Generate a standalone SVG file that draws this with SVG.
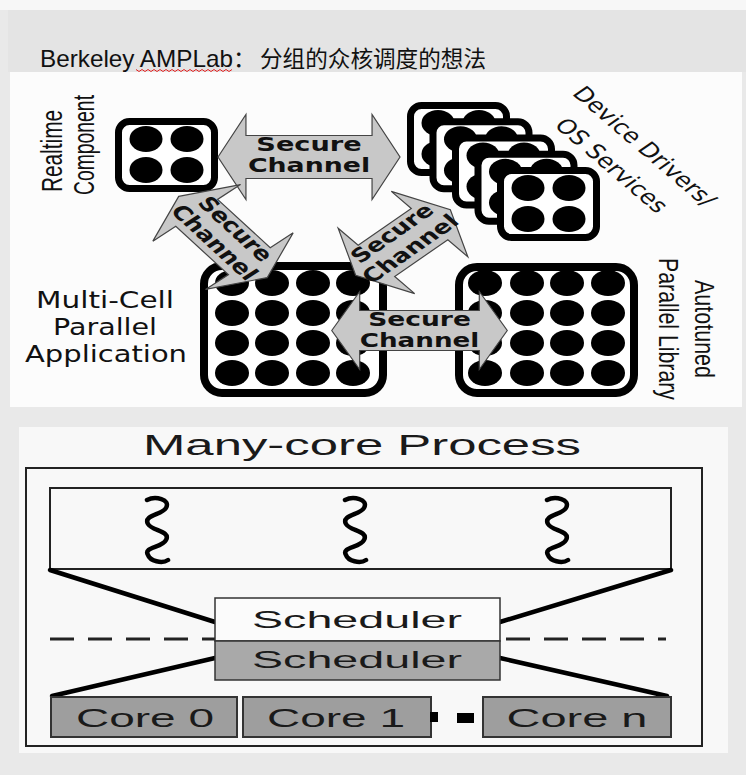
<svg xmlns="http://www.w3.org/2000/svg" width="746" height="775" viewBox="0 0 746 775">
<style>
.lbl{font-family:"Liberation Sans",Arial,sans-serif;fill:#111}
.ver{font-family:"DejaVu Sans",Verdana,sans-serif;fill:#111}
.sc{font-family:"DejaVu Sans",Verdana,sans-serif;font-weight:bold;font-size:19px;fill:#111;text-anchor:middle}
.arrow{fill:#c8c8c8;stroke:#444;stroke-width:1.2;vector-effect:non-scaling-stroke}
.dot{fill:#000}
.bigbox{fill:#fff;stroke:#000;stroke-width:8}
.thick{stroke:#000;stroke-width:4.5;fill:none;stroke-linecap:round}
.sq{stroke:#000;stroke-width:4.5;fill:none;stroke-linecap:round}
.bt{font-family:"Liberation Sans",Arial,sans-serif;fill:#1a1a1a;text-anchor:middle}
</style>
<defs>
<g id="quad">
<rect x="3.5" y="3.5" width="96" height="67" rx="11" fill="#fff" stroke="#000" stroke-width="7"/>
<ellipse class="dot" cx="31" cy="21" rx="16.5" ry="13"/>
<ellipse class="dot" cx="72" cy="21" rx="16.5" ry="13"/>
<ellipse class="dot" cx="31" cy="52" rx="16.5" ry="13"/>
<ellipse class="dot" cx="72" cy="52" rx="16.5" ry="13"/>
</g>
</defs>

<!-- backgrounds -->
<rect x="0" y="0" width="746" height="775" fill="#e9e9e9"/>
<rect x="0" y="0" width="746" height="10" fill="#f7f7f7"/>
<rect x="8" y="10" width="738" height="62" fill="#e4e4e4"/>
<rect x="10" y="72" width="732" height="335" fill="#fcfcfc"/>
<rect x="19" y="427" width="709" height="326" fill="#f8f8f8"/>

<!-- title -->
<g id="title">
<text class="lbl" x="40" y="67" font-size="24" textLength="193" lengthAdjust="spacingAndGlyphs">Berkeley AMPLab</text>
<text x="233" y="67" font-size="23" font-family="Noto Sans CJK SC, sans-serif" fill="#111">：</text>
<text x="260" y="67" font-size="23" font-family="Noto Sans CJK SC, sans-serif" fill="#111" textLength="226" lengthAdjust="spacingAndGlyphs">分组的众核调度的想法</text>
<path d="M136,69.5 l3,2 l3,-2 l3,2 l3,-2 l3,2 l3,-2 l3,2 l3,-2 l3,2 l3,-2 l3,2 l3,-2 l3,2 l3,-2 l3,2 l3,-2 l3,2 l3,-2 l3,2 l3,-2 l3,2 l3,-2 l3,2 l3,-2 l3,2 l3,-2 l3,2 l3,-2 l3,2 l3,-2 l3,2 l3,-2" fill="none" stroke="#e02020" stroke-width="1"/>
</g>

<!-- nodes -->
<g id="realtime">
<use href="#quad" x="115" y="118"/>
<text class="lbl" font-size="20" text-anchor="middle" textLength="82" lengthAdjust="spacingAndGlyphs" transform="translate(62,151) rotate(-90) scale(1,1.45)">Realtime</text>
<text class="lbl" font-size="20" text-anchor="middle" textLength="100" lengthAdjust="spacingAndGlyphs" transform="translate(94,145) rotate(-90) scale(1,1.45)">Component</text>
</g>

<g id="device-drivers">
<use href="#quad" x="407" y="102"/>
<use href="#quad" x="429.5" y="118.25"/>
<use href="#quad" x="452" y="134.5"/>
<use href="#quad" x="474.5" y="150.75"/>
<use href="#quad" x="497" y="167"/>
<text class="ver" font-size="20" text-anchor="middle" transform="translate(638,151) scale(1.3,1) rotate(48)">Device Drivers/</text>
<text class="ver" font-size="20" text-anchor="middle" transform="translate(605,170) scale(1.3,1) rotate(48)">OS Services</text>
</g>

<g id="multicell">
<rect class="bigbox" x="204" y="266" width="179" height="127" rx="18"/>
<g class="dot">
<ellipse cx="232" cy="283" rx="17" ry="13"/><ellipse cx="272" cy="283" rx="17" ry="13"/><ellipse cx="313" cy="283" rx="17" ry="13"/><ellipse cx="353" cy="283" rx="17" ry="13"/>
<ellipse cx="232" cy="313" rx="17" ry="13"/><ellipse cx="272" cy="313" rx="17" ry="13"/><ellipse cx="313" cy="313" rx="17" ry="13"/><ellipse cx="353" cy="313" rx="17" ry="13"/>
<ellipse cx="232" cy="343" rx="17" ry="13"/><ellipse cx="272" cy="343" rx="17" ry="13"/><ellipse cx="313" cy="343" rx="17" ry="13"/><ellipse cx="353" cy="343" rx="17" ry="13"/>
<ellipse cx="232" cy="373" rx="17" ry="13"/><ellipse cx="272" cy="373" rx="17" ry="13"/><ellipse cx="313" cy="373" rx="17" ry="13"/><ellipse cx="353" cy="373" rx="17" ry="13"/>
</g>
<text class="ver" font-size="23" x="105" y="308" text-anchor="middle" textLength="138" lengthAdjust="spacingAndGlyphs">Multi-Cell</text>
<text class="ver" font-size="23" x="105" y="335" text-anchor="middle" textLength="104" lengthAdjust="spacingAndGlyphs">Parallel</text>
<text class="ver" font-size="23" x="106" y="362" text-anchor="middle" textLength="162" lengthAdjust="spacingAndGlyphs">Application</text>
</g>

<g id="autotuned">
<rect class="bigbox" x="459" y="267" width="175" height="126" rx="18"/>
<g class="dot">
<ellipse cx="485" cy="283" rx="17" ry="13"/><ellipse cx="527" cy="283" rx="17" ry="13"/><ellipse cx="567" cy="283" rx="17" ry="13"/><ellipse cx="608" cy="283" rx="17" ry="13"/>
<ellipse cx="485" cy="313" rx="17" ry="13"/><ellipse cx="527" cy="313" rx="17" ry="13"/><ellipse cx="567" cy="313" rx="17" ry="13"/><ellipse cx="608" cy="313" rx="17" ry="13"/>
<ellipse cx="485" cy="343" rx="17" ry="13"/><ellipse cx="527" cy="343" rx="17" ry="13"/><ellipse cx="567" cy="343" rx="17" ry="13"/><ellipse cx="608" cy="343" rx="17" ry="13"/>
<ellipse cx="485" cy="373" rx="17" ry="13"/><ellipse cx="527" cy="373" rx="17" ry="13"/><ellipse cx="567" cy="373" rx="17" ry="13"/><ellipse cx="608" cy="373" rx="17" ry="13"/>
</g>
<text class="lbl" font-size="21" text-anchor="middle" textLength="98" lengthAdjust="spacingAndGlyphs" transform="translate(695,329) rotate(90) scale(1,1.35)">Autotuned</text>
<text class="lbl" font-size="21" text-anchor="middle" textLength="142" lengthAdjust="spacingAndGlyphs" transform="translate(659,329) rotate(90) scale(1,1.35)">Parallel Library</text>
</g>

<!-- connectors: secure channels -->
<g id="channels">
<g transform="translate(309,157) scale(1.3,1)">
<polygon class="arrow" points="-70,0 -48.5,-42.5 -48.5,-21.5 48.5,-21.5 48.5,-42.5 70,0 48.5,42.5 48.5,21.5 -48.5,21.5 -48.5,42.5"/>
<text class="sc" y="-6" textLength="81" lengthAdjust="spacingAndGlyphs">Secure</text><text class="sc" y="15" textLength="94" lengthAdjust="spacingAndGlyphs">Channel</text>
</g>
<g transform="translate(223,237) scale(1.3,1) rotate(50)">
<polygon class="arrow" points="-53,0 -31.5,-44 -31.5,-21 31.5,-21 31.5,-44 53,0 31.5,44 31.5,21 -31.5,21 -31.5,44"/>
<text class="sc" y="-6" textLength="78" lengthAdjust="spacingAndGlyphs">Secure</text><text class="sc" y="15" textLength="92" lengthAdjust="spacingAndGlyphs">Channel</text>
</g>
<g transform="translate(403,242.5) scale(1.3,1) rotate(-42)">
<polygon class="arrow" points="-49,0 -27.5,-44 -27.5,-21 27.5,-21 27.5,-44 49,0 27.5,44 27.5,21 -27.5,21 -27.5,44"/>
<text class="sc" y="-6" textLength="78" lengthAdjust="spacingAndGlyphs">Secure</text><text class="sc" y="15" textLength="92" lengthAdjust="spacingAndGlyphs">Channel</text>
</g>
<g transform="translate(419.5,330.5) scale(1.3,1)">
<polygon class="arrow" points="-67.5,0 -46,-39 -46,-20 46,-20 46,-39 67.5,0 46,39 46,20 -46,20 -46,39"/>
<text class="sc" y="-5" textLength="79" lengthAdjust="spacingAndGlyphs">Secure</text><text class="sc" y="16" textLength="92" lengthAdjust="spacingAndGlyphs">Channel</text>
</g>
</g>

<!-- bottom: many-core process -->
<g id="process">
<text class="bt" x="362" y="455" font-size="30" textLength="438" lengthAdjust="spacingAndGlyphs">Many-core Process</text>
<rect x="26" y="468" width="676" height="278" fill="none" stroke="#222" stroke-width="2"/>
</g>
<g id="threads">
<rect x="50" y="488" width="621" height="81" fill="none" stroke="#222" stroke-width="2"/>
<path class="sq" d="M147,500 C155,496 171,499 166,508 C162,515 143,515 148,524 C152,531 171,531 166,540 C162,548 143,547 148,555 C150,561 162,564 168,560"/>
<path class="sq" d="M345,500 C353,496 369,499 364,508 C360,515 341,515 346,524 C350,531 369,531 364,540 C360,548 341,547 346,555 C348,561 360,564 366,560"/>
<path class="sq" d="M547,500 C555,496 571,499 566,508 C562,515 543,515 548,524 C552,531 571,531 566,540 C562,548 543,547 548,555 C550,561 562,564 568,560"/>
</g>
<g id="links">
<line class="thick" x1="50" y1="570" x2="215" y2="622"/>
<line class="thick" x1="671" y1="570" x2="500" y2="622"/>
<line class="thick" x1="215" y1="658" x2="52" y2="696"/>
<line class="thick" x1="500" y1="658" x2="667" y2="696"/>
<line x1="50" y1="639" x2="666" y2="639" stroke="#222" stroke-width="3" stroke-dasharray="24 14"/>
</g>
<g id="scheduler-upper">
<rect x="215" y="598" width="285" height="43" fill="#fbfbfb" stroke="#333" stroke-width="1.5"/>
<text class="bt" x="357" y="628" font-size="24" textLength="210" lengthAdjust="spacingAndGlyphs">Scheduler</text>
</g>
<g id="scheduler-lower">
<rect x="215" y="641" width="285" height="39" fill="#a9a9a9" stroke="#333" stroke-width="1.5"/>
<text class="bt" x="357" y="668" font-size="24" textLength="210" lengthAdjust="spacingAndGlyphs">Scheduler</text>
</g>
<g id="core0">
<rect x="51" y="697" width="186" height="40" fill="#9e9e9e" stroke="#333" stroke-width="2"/>
<text class="bt" x="145" y="727" font-size="26" textLength="138" lengthAdjust="spacingAndGlyphs">Core 0</text>
</g>
<g id="core1">
<rect x="243" y="697" width="188" height="40" fill="#9e9e9e" stroke="#333" stroke-width="2"/>
<text class="bt" x="336" y="727" font-size="26" textLength="138" lengthAdjust="spacingAndGlyphs">Core 1</text>
</g>
<g id="ellipsis">
<rect x="430" y="712" width="8" height="10" fill="#000"/>
<rect x="457" y="713" width="17" height="10" fill="#000"/>
</g>
<g id="coren">
<rect x="483" y="697" width="188" height="40" fill="#9e9e9e" stroke="#333" stroke-width="2"/>
<text class="bt" x="577" y="727" font-size="26" textLength="141" lengthAdjust="spacingAndGlyphs">Core n</text>
</g>
</svg>
